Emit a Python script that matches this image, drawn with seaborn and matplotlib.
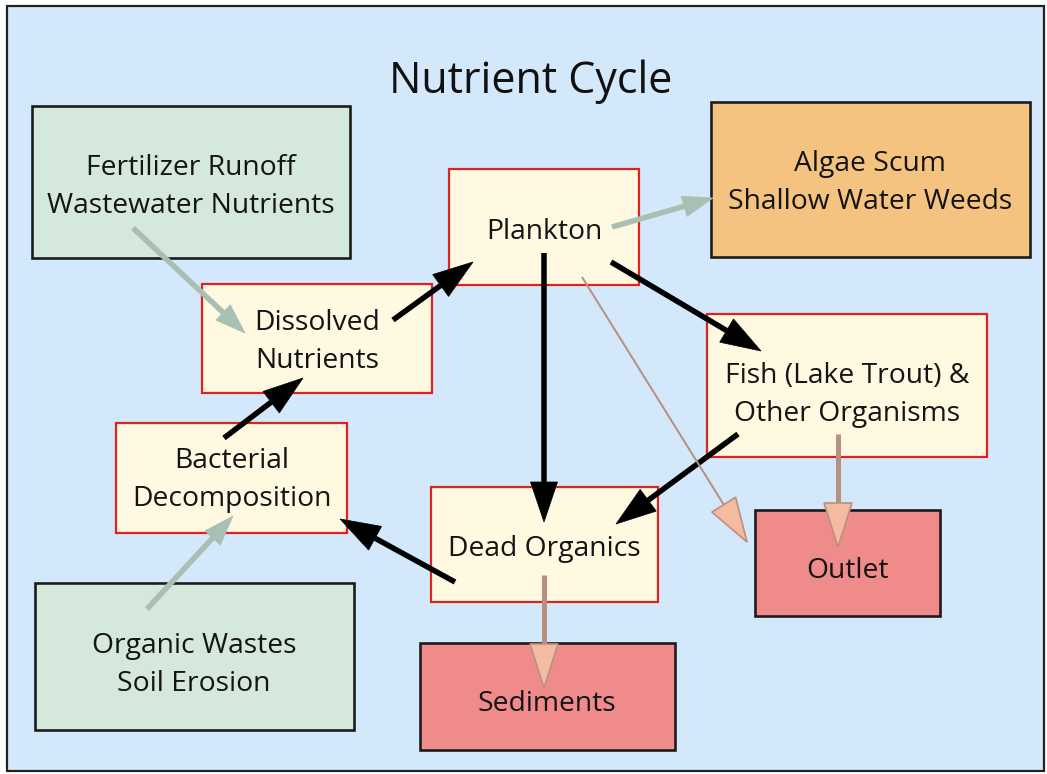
import matplotlib
matplotlib.use("Agg")
import matplotlib.pyplot as plt
import seaborn as sns
import numpy as np
from matplotlib.patches import Rectangle, Polygon

# ---------------- data ----------------
title = "Nutrient Cycle"
box_labels = [
    ["Fertilizer Runoff", "Wastewater Nutrients"],
    ["Algae Scum", "Shallow Water Weeds"],
    ["Plankton"],
    ["Dissolved", "Nutrients"],
    ["Fish (Lake Trout) &", "Other Organisms"],
    ["Bacterial", "Decomposition"],
    ["Dead Organics"],
    ["Outlet"],
    ["Sediments"],
    ["Organic Wastes", "Soil Erosion"],
]
box_kind = ["source", "sink_orange", "stage", "stage", "stage", "stage",
            "stage", "sink_red", "sink_red", "source"]
# box extents in picture pixels: x0, y0, x1, y1
box_x0 = [32, 711, 449, 202, 707, 116, 431, 755, 420, 35]
box_y0 = [106, 102, 169, 284, 314, 423, 487, 510, 643, 583]
box_x1 = [350, 1030, 639, 432, 987, 347, 658, 940, 675, 354]
box_y1 = [258, 257, 285, 393, 457, 533, 602, 616, 750, 730]
# text centres
text_x = [191, 870, 544, 317, 847, 232, 544, 847, 547, 194]
text_y = [184, 180, 229, 339, 392, 477, 546, 568, 701, 662]

# arrows: start (x, y) -> tip (x, y), kind
arrow_x0 = [393, 611, 544, 738, 455, 224, 133, 612, 147, 582, 544, 838]
arrow_y0 = [320, 262, 253, 434, 582, 438, 228, 227, 609, 277, 575, 434]
arrow_x1 = [473, 761, 544, 616, 340, 303, 245, 713, 233, 747, 544, 838]
arrow_y1 = [262, 351, 522, 524, 519, 378, 333, 198, 516, 542, 688, 547]
arrow_kind = ["flow"] * 6 + ["input"] * 3 + ["loss_thin", "loss", "loss"]

# ---------------- styles ----------------
W, H = 1047, 774
bg_blue = "#D3E8FB"
fills = {"source": "#D4E8DC", "sink_orange": "#F5C380", "stage": "#FEF9E0",
         "sink_red": "#EF8B8B"}
edges = {"source": "#1a1a1a", "sink_orange": "#1a1a1a", "stage": "#E0211E",
         "sink_red": "#1a1a1a"}

sns.set_theme(style="white")
plt.rcParams["font.family"] = ["Open Sans", "DejaVu Sans"]

fig = plt.figure(figsize=(W / 100, H / 100), dpi=100)
ax = fig.add_axes([0, 0, 1, 1])
ax.set_xlim(0, W)
ax.set_ylim(H, 0)
ax.set_axis_off()
fig.patch.set_facecolor("white")

px2pt = 72 / 100.0
text_shift = 3  # vertical optical offset of the font

# outer panel
ax.add_patch(Rectangle((7, 6), 1037, 765, facecolor=bg_blue,
                       edgecolor="#222222", linewidth=2.2 * px2pt, zorder=0))

ax.text(531, 79 + text_shift, title, ha="center", va="center", fontsize=31,
        color="#111111", zorder=5)

for lab, kind, x0, y0, x1, y1, tx, ty in zip(box_labels, box_kind, box_x0, box_y0,
                                            box_x1, box_y1, text_x, text_y):
    lw = 2.2 if kind == "stage" else 2.6
    ax.add_patch(Rectangle((x0, y0), x1 - x0, y1 - y0, facecolor=fills[kind],
                           edgecolor=edges[kind], linewidth=lw * px2pt, zorder=1))
    n = len(lab)
    spacing = 38
    for i, line in enumerate(lab):
        yy = ty + (i - (n - 1) / 2) * spacing + text_shift
        ax.text(tx, yy, line, ha="center", va="center", fontsize=20.3,
                color="#141414", zorder=5)


def head_polygon(x0, y0, x1, y1, hl, hw):
    d = np.array([x1 - x0, y1 - y0], float)
    L = np.hypot(*d)
    u = d / L
    n = np.array([-u[1], u[0]])
    tip = np.array([x1, y1], float)
    base = tip - u * hl
    return np.array([tip, base + n * hw / 2, base - n * hw / 2]), base


for x0, y0, x1, y1, kind in zip(arrow_x0, arrow_y0, arrow_x1, arrow_y1, arrow_kind):
    if kind == "flow":
        tri, base = head_polygon(x0, y0, x1, y1, 40, 27)
        ax.plot([x0, base[0]], [y0, base[1]], color="black", lw=5.5 * px2pt,
                solid_capstyle="butt", zorder=3)
        ax.add_patch(Polygon(tri, closed=True, facecolor="black", edgecolor="black",
                             linewidth=0.5, zorder=3))
    elif kind == "input":
        tri, base = head_polygon(x0, y0, x1, y1, 30, 21)
        ax.plot([x0, base[0]], [y0, base[1]], color="#A9BFB3", lw=5.5 * px2pt,
                solid_capstyle="butt", zorder=3)
        ax.add_patch(Polygon(tri, closed=True, facecolor="#A9BFB3", edgecolor="#A9BFB3",
                             linewidth=0.5, zorder=3))
    else:
        thin = kind == "loss_thin"
        tri, base = head_polygon(x0, y0, x1, y1, 44, 28)
        ax.plot([x0, base[0]], [y0, base[1]], color="#B8907F",
                lw=(2.0 if thin else 5.0) * px2pt, solid_capstyle="butt", zorder=3)
        ax.add_patch(Polygon(tri, closed=True, facecolor="#F5BBA0", edgecolor="#B8907F",
                             linewidth=1.2, zorder=3))

fig.savefig("out.png", dpi=100, facecolor="white")
